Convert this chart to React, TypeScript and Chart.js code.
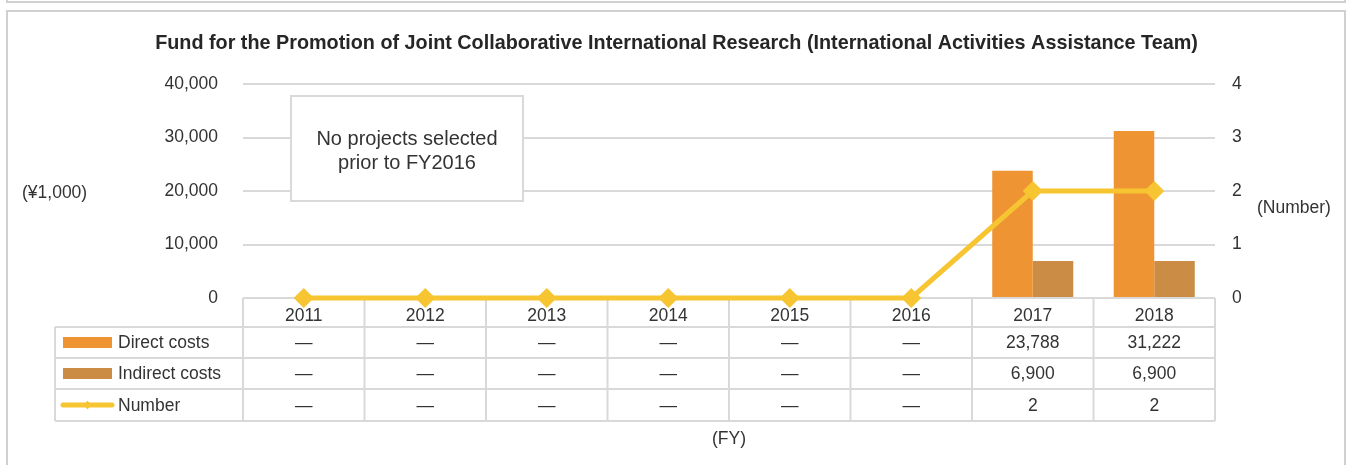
import React, { useEffect, useRef } from "react";
import { Chart, registerables } from "chart.js";

Chart.register(...registerables);

const years = ["2011", "2012", "2013", "2014", "2015", "2016", "2017", "2018"];
const directCosts: (number | null)[] = [null, null, null, null, null, null, 23788, 31222];
const indirectCosts: (number | null)[] = [null, null, null, null, null, null, 6900, 6900];
const numberOfProjects: number[] = [0, 0, 0, 0, 0, 0, 2, 2];
const leftTicks = [0, 10000, 20000, 30000, 40000];
const rightTicks = [0, 1, 2, 3, 4];
const titleText =
  "Fund for the Promotion of Joint Collaborative International Research (International Activities Assistance Team)";
const noteLines = ["No projects selected", "prior to FY2016"];
const seriesNames = ["Direct costs", "Indirect costs", "Number"];
const leftUnit = "(¥1,000)";
const rightUnit = "(Number)";
const xUnit = "(FY)";

const DIRECT_COLOR = "#EF9433";
const INDIRECT_COLOR = "#CB8D45";
const LINE_COLOR = "#F6C531";
const GRID_COLOR = "#D9D9D9";
const TEXT_COLOR = "#333333";
const FONT = "'Liberation Sans', Arial, sans-serif";

const W = 1349;
const H = 465;

const fmt = (v: number | null) => (v === null ? "—" : v.toLocaleString("en-US"));
const fmtNum = (v: number) => (v === 0 ? "—" : String(v));

const decorPlugin = {
  id: "decor",
  beforeDraw(chart: any) {
    const ctx = chart.ctx as CanvasRenderingContext2D;
    ctx.save();
    ctx.fillStyle = "#ffffff";
    ctx.fillRect(0, 0, W, H);
    ctx.strokeStyle = "#D0D0D0";
    ctx.lineWidth = 2;
    ctx.beginPath();
    ctx.moveTo(7, 0);
    ctx.lineTo(7, 2);
    ctx.lineTo(1345, 2);
    ctx.lineTo(1345, 0);
    ctx.stroke();
    ctx.beginPath();
    ctx.moveTo(7, H + 2);
    ctx.lineTo(7, 11);
    ctx.lineTo(1345, 11);
    ctx.lineTo(1345, H + 2);
    ctx.stroke();

    // title
    ctx.fillStyle = "#262626";
    ctx.font = `bold 19.8px ${FONT}`;
    ctx.textAlign = "center";
    ctx.textBaseline = "alphabetic";
    ctx.fillText(titleText, 676.5, 48.5);

    // axis units
    ctx.font = `17.5px ${FONT}`;
    ctx.fillStyle = TEXT_COLOR;
    ctx.textBaseline = "middle";
    ctx.textAlign = "left";
    ctx.fillText(leftUnit, 22, 193);
    ctx.fillText(rightUnit, 1257, 208);
    ctx.textAlign = "center";
    const ca = chart.chartArea;
    ctx.fillText(xUnit, (ca.left + ca.right) / 2, 439);
    ctx.restore();
  },
  beforeDatasetsDraw(chart: any) {
    const ctx = chart.ctx as CanvasRenderingContext2D;
    const x = chart.scales.x;
    const ca = chart.chartArea;
    const n = years.length;
    const colW = (ca.right - ca.left) / n;
    const top = ca.bottom;
    const rowTops = [327, 358, 389, 421];
    const tableLeft = 55;
    ctx.save();
    ctx.strokeStyle = GRID_COLOR;
    ctx.lineWidth = 2;
    for (let i = 0; i <= n; i++) {
      const cx = i < n ? x.getPixelForValue(i) - colW / 2 : x.getPixelForValue(n - 1) + colW / 2;
      ctx.beginPath();
      ctx.moveTo(cx, top);
      ctx.lineTo(cx, rowTops[3]);
      ctx.stroke();
    }
    ctx.beginPath();
    ctx.moveTo(tableLeft, rowTops[0]);
    ctx.lineTo(tableLeft, rowTops[3]);
    ctx.stroke();
    for (const ry of rowTops) {
      ctx.beginPath();
      ctx.moveTo(tableLeft, ry);
      ctx.lineTo(ca.right, ry);
      ctx.stroke();
    }
    ctx.fillStyle = TEXT_COLOR;
    ctx.font = `17.5px ${FONT}`;
    ctx.textAlign = "center";
    ctx.textBaseline = "middle";
    const rows: string[][] = [
      directCosts.map(fmt),
      indirectCosts.map(fmt),
      numberOfProjects.map(fmtNum),
    ];
    for (let i = 0; i < n; i++) {
      const cx = x.getPixelForValue(i);
      ctx.fillText(years[i], cx, 316);
      for (let r = 0; r < 3; r++) {
        const cy = (rowTops[r] + rowTops[r + 1]) / 2 + 1;
        ctx.fillText(rows[r][i], cx, cy);
      }
    }
    ctx.textAlign = "left";
    for (let r = 0; r < 3; r++) {
      const cy = (rowTops[r] + rowTops[r + 1]) / 2;
      ctx.fillStyle = TEXT_COLOR;
      ctx.fillText(seriesNames[r], 118, cy + 1);
      if (r < 2) {
        ctx.fillStyle = r === 0 ? DIRECT_COLOR : INDIRECT_COLOR;
        ctx.fillRect(63, cy - 5.5, 49, 11);
      } else {
        ctx.strokeStyle = LINE_COLOR;
        ctx.lineWidth = 5;
        ctx.lineCap = "round";
        ctx.beginPath();
        ctx.moveTo(63, cy);
        ctx.lineTo(112, cy);
        ctx.stroke();
        ctx.fillStyle = LINE_COLOR;
        ctx.beginPath();
        ctx.moveTo(87.5, cy - 4.5);
        ctx.lineTo(91, cy);
        ctx.lineTo(87.5, cy + 4.5);
        ctx.lineTo(84, cy);
        ctx.closePath();
        ctx.fill();
      }
    }
    ctx.restore();
  },
  afterDraw(chart: any) {
    const ctx = chart.ctx as CanvasRenderingContext2D;
    ctx.save();
    ctx.fillStyle = "#ffffff";
    ctx.strokeStyle = GRID_COLOR;
    ctx.lineWidth = 2;
    ctx.fillRect(290, 95, 234, 107);
    ctx.strokeRect(291, 96, 232, 105);
    ctx.fillStyle = TEXT_COLOR;
    ctx.font = `20px ${FONT}`;
    ctx.textAlign = "center";
    ctx.textBaseline = "alphabetic";
    ctx.fillText(noteLines[0], 407, 145);
    ctx.fillText(noteLines[1], 407, 169);
    ctx.restore();
  },
};

export default function App() {
  const canvasRef = useRef<HTMLCanvasElement | null>(null);

  useEffect(() => {
    const canvas = canvasRef.current;
    if (!canvas) return;
    const chart = new Chart(canvas, {
      type: "bar",
      data: {
        labels: years,
        datasets: [
          {
            type: "line",
            label: seriesNames[2],
            data: numberOfProjects,
            yAxisID: "y1",
            borderColor: LINE_COLOR,
            backgroundColor: LINE_COLOR,
            borderWidth: 5,
            pointStyle: "rectRot",
            pointRadius: 10,
            pointBackgroundColor: LINE_COLOR,
            pointBorderColor: LINE_COLOR,
            pointBorderWidth: 0,
            tension: 0,
            clip: false,
            order: 0,
          } as any,
          {
            type: "bar",
            label: seriesNames[0],
            data: directCosts,
            yAxisID: "y",
            backgroundColor: DIRECT_COLOR,
            categoryPercentage: 0.667,
            barPercentage: 1,
            order: 1,
          } as any,
          {
            type: "bar",
            label: seriesNames[1],
            data: indirectCosts,
            yAxisID: "y",
            backgroundColor: INDIRECT_COLOR,
            categoryPercentage: 0.667,
            barPercentage: 1,
            order: 2,
          } as any,
        ],
      },
      options: {
        responsive: false,
        animation: false,
        devicePixelRatio: 1,
        layout: { padding: { left: 0, right: 0, top: 84, bottom: 167 } },
        plugins: {
          legend: { display: false },
          title: { display: false },
          tooltip: { enabled: false },
        },
        scales: {
          x: { display: false, offset: true },
          y: {
            position: "left",
            min: leftTicks[0],
            max: leftTicks[leftTicks.length - 1],
            ticks: {
              stepSize: leftTicks[1] - leftTicks[0],
              padding: 25,
              color: TEXT_COLOR,
              font: { family: FONT, size: 17.5 },
              callback: (v: any) => Number(v).toLocaleString("en-US"),
            },
            grid: { color: GRID_COLOR, lineWidth: 2, drawTicks: false },
            border: { display: false },
            afterFit: (s: any) => {
              s.width = 243;
            },
          },
          y1: {
            position: "right",
            min: rightTicks[0],
            max: rightTicks[rightTicks.length - 1],
            ticks: {
              stepSize: rightTicks[1] - rightTicks[0],
              padding: 17,
              color: TEXT_COLOR,
              font: { family: FONT, size: 17.5 },
            },
            grid: { display: false, drawTicks: false },
            border: { display: false },
            afterFit: (s: any) => {
              s.width = W - 1215;
            },
          },
        },
      } as any,
      plugins: [decorPlugin as any],
    });
    return () => chart.destroy();
  }, []);

  return (
    <div style={{ position: "fixed", left: 0, top: 0, width: W, height: H, background: "#fff" }}>
      <canvas ref={canvasRef} width={W} height={H} style={{ width: W, height: H, display: "block" }} />
    </div>
  );
}
